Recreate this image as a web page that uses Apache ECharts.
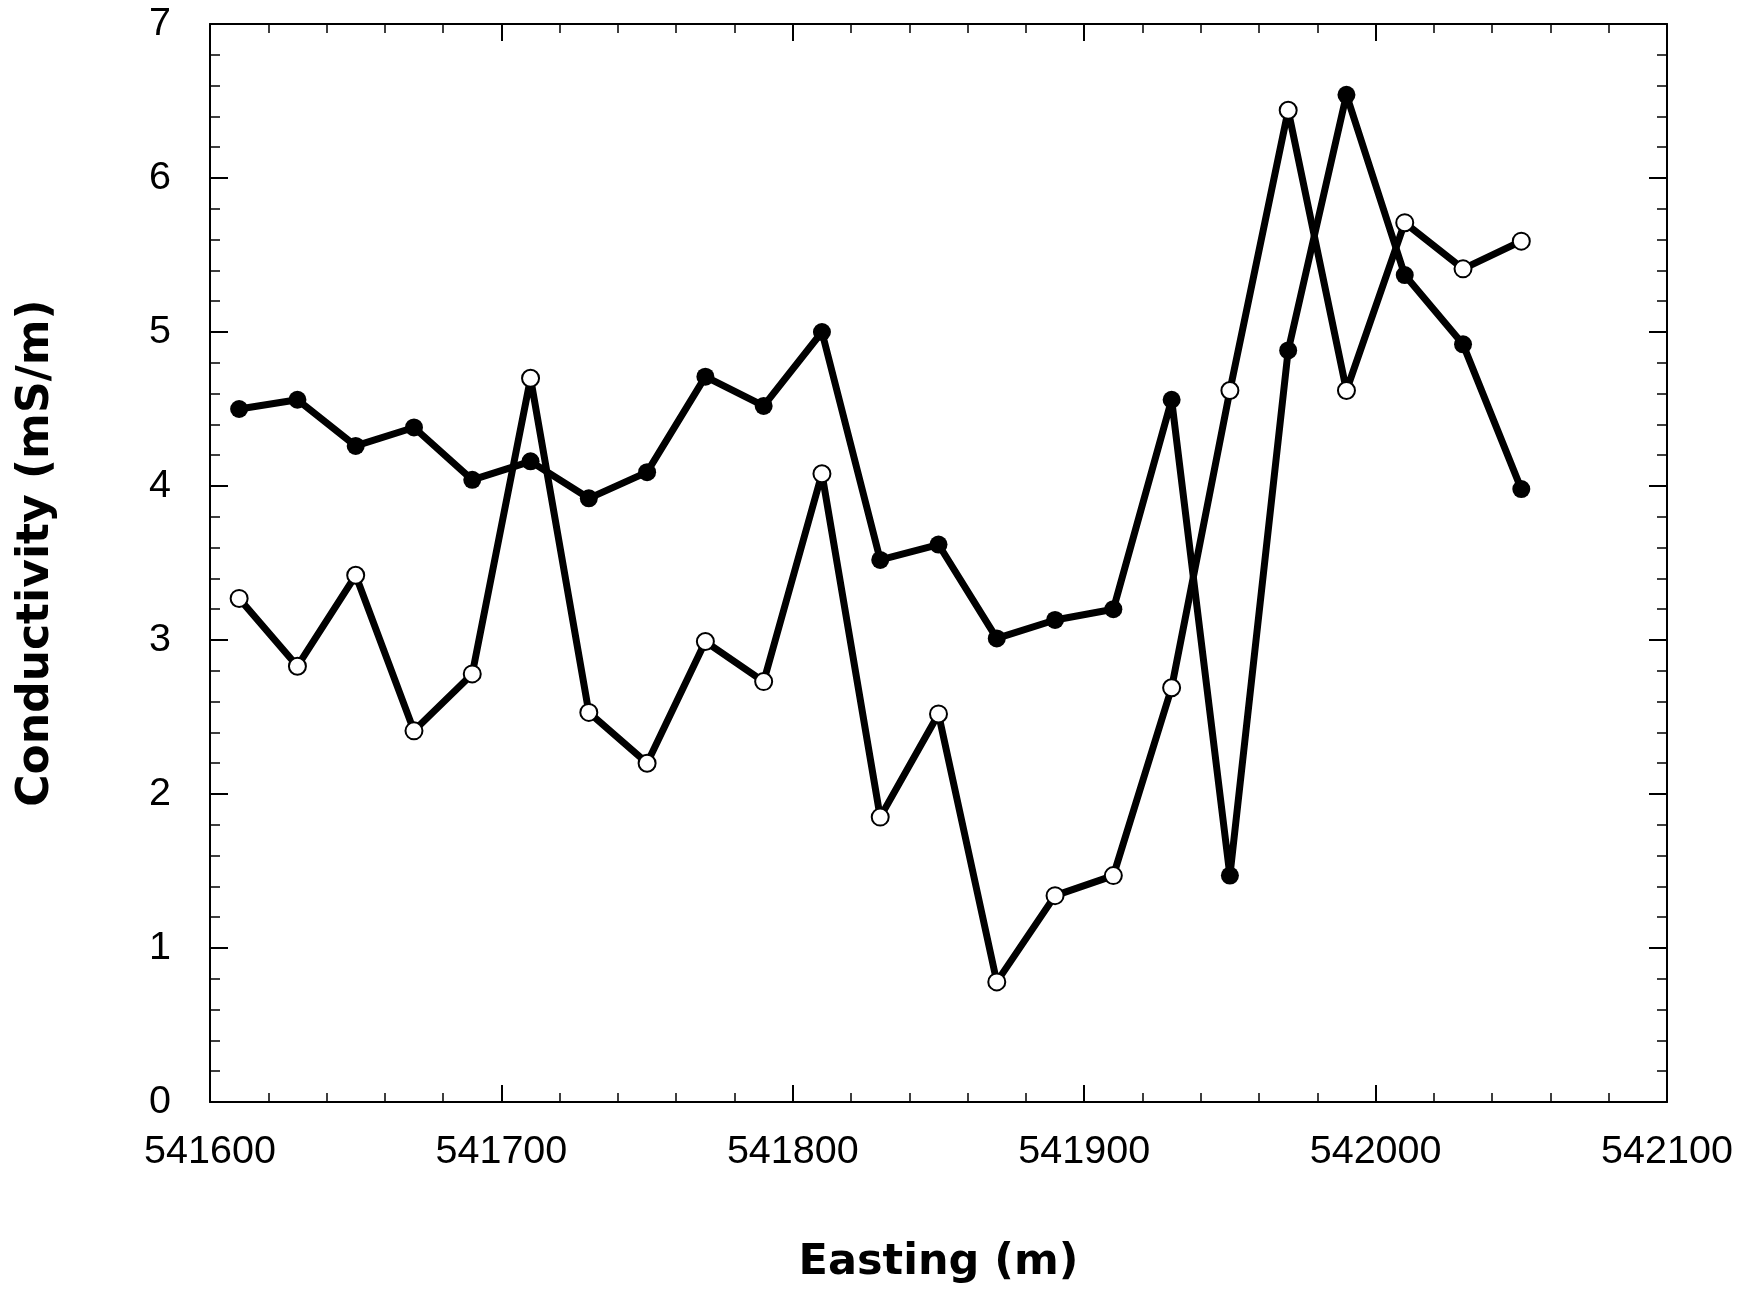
<!DOCTYPE html>
<html>
<head>
<meta charset="utf-8">
<style>
  html, body { margin: 0; padding: 0; background: #fff; }
  #chart { width: 1749px; height: 1293px; }
</style>
<script src="https://cdn.jsdelivr.net/npm/echarts@6/dist/echarts.min.js"></script>
</head>
<body>
<div id="chart"></div>
<script>
// Easting positions (m)
const eastings = [541610, 541630, 541650, 541670, 541690, 541710, 541730, 541750, 541770, 541790,
                  541810, 541830, 541850, 541870, 541890, 541910, 541930, 541950, 541970, 541990,
                  542010, 542030, 542050];
// Conductivity (mS/m) - filled circles
const filledSeries = [4.50, 4.56, 4.26, 4.38, 4.04, 4.16, 3.92, 4.09, 4.71, 4.52,
                      5.00, 3.52, 3.62, 3.01, 3.13, 3.20, 4.56, 1.47, 4.88, 6.54,
                      5.37, 4.92, 3.98];
// Conductivity (mS/m) - open circles
const openSeries = [3.27, 2.83, 3.42, 2.41, 2.78, 4.70, 2.53, 2.20, 2.99, 2.73,
                    4.08, 1.85, 2.52, 0.78, 1.34, 1.47, 2.69, 4.62, 6.44, 4.62,
                    5.71, 5.41, 5.59];
const xTitle = 'Easting (m)';
const yTitle = 'Conductivity (mS/m)';

const pairs = (ys) => eastings.map((x, i) => [x, ys[i]]);

const chart = echarts.init(document.getElementById('chart'), null, { renderer: 'canvas' });

const axisLineStyle = { color: '#000', width: 2 };
const tickStyle = { color: '#000', width: 2 };
const minorStyle = { color: '#000', width: 1.5 };
const labelFont = { fontFamily: 'Liberation Sans, Arial, sans-serif', fontSize: 39.5, color: '#000' };
const xTitleFont = { fontFamily: 'DejaVu Sans, sans-serif', fontWeight: 'bold', fontSize: 43, color: '#000' };
const yTitleFont = { fontFamily: 'DejaVu Sans, sans-serif', fontWeight: 'bold', fontSize: 44, color: '#000',
                     padding: [0, 0, 0, 20] };

function xAx(pos, showLabels) {
  return {
    type: 'value', position: pos, min: 541600, max: 542100, interval: 100,
    name: showLabels ? xTitle : '', nameLocation: 'middle', nameGap: 139,
    nameTextStyle: xTitleFont,
    axisLine: { show: true, onZero: false, lineStyle: axisLineStyle },
    axisTick: { show: true, inside: true, length: 17, lineStyle: tickStyle },
    minorTick: { show: true, splitNumber: 5, length: 9, lineStyle: minorStyle },
    axisLabel: Object.assign({ show: showLabels, margin: 30, formatter: v => String(v) }, labelFont),
    splitLine: { show: false }, minorSplitLine: { show: false }
  };
}
function yAx(pos, showLabels) {
  return {
    type: 'value', position: pos, min: 0, max: 7, interval: 1,
    name: showLabels ? yTitle : '', nameLocation: 'middle', nameGap: 151, nameRotate: 90,
    nameTextStyle: yTitleFont,
    axisLine: { show: true, onZero: false, lineStyle: axisLineStyle },
    axisTick: { show: true, inside: true, length: 18, lineStyle: tickStyle },
    minorTick: { show: true, splitNumber: 5, length: 10, lineStyle: minorStyle },
    axisLabel: Object.assign({ show: showLabels, margin: 39, formatter: v => String(v) }, labelFont),
    splitLine: { show: false }, minorSplitLine: { show: false }
  };
}

chart.setOption({
  backgroundColor: '#fff',
  animation: false,
  grid: { left: 210, right: 82, top: 24, bottom: 191, containLabel: false },
  xAxis: [xAx('bottom', true), xAx('top', false)],
  yAxis: [yAx('left', true), yAx('right', false)],
  series: [
    {
      type: 'line', name: 'filled', data: pairs(filledSeries),
      xAxisIndex: 0, yAxisIndex: 0,
      symbol: 'circle', symbolSize: 18, showAllSymbol: true,
      lineStyle: { color: '#000', width: 7 },
      itemStyle: { color: '#000', borderColor: '#000', borderWidth: 0 },
      emphasis: { disabled: true }
    },
    {
      type: 'line', name: 'open', data: pairs(openSeries),
      xAxisIndex: 0, yAxisIndex: 0,
      symbol: 'circle', symbolSize: 17, showAllSymbol: true,
      lineStyle: { color: '#000', width: 7 },
      itemStyle: { color: '#fff', borderColor: '#000', borderWidth: 2 },
      emphasis: { disabled: true }
    }
  ]
});
</script>
</body>
</html>
